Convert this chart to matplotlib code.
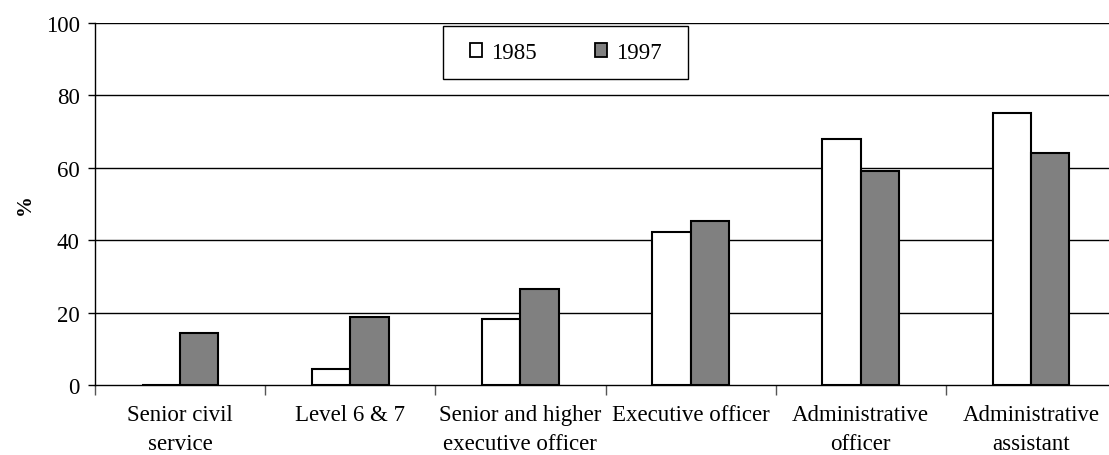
import matplotlib.pyplot as plt
import numpy as np
from matplotlib.patches import Rectangle

# categories and values
categories = ['Senior civil\nservice', 'Level 6 & 7', 'Senior and higher\nexecutive officer',
              'Executive officer', 'Administrative\nofficer', 'Administrative\nassistant']
pct_1985 = [0, 4.4, 18.2, 42.4, 68.0, 75.1]
pct_1997 = [14.4, 18.7, 26.5, 45.2, 59.1, 64.1]
y_ticks = [0, 20, 40, 60, 80, 100]

plt.rcParams['font.family'] = ['Liberation Serif', 'DejaVu Serif']

fig = plt.figure(figsize=(11.09, 4.56), dpi=100)
ax = fig.add_axes([95 / 1109, 1 - 386 / 456, 1021 / 1109, 362 / 456])

x = np.arange(len(categories))
w = 0.225

#gridlines first so bars sit on top
for v in y_ticks[1:]:
    ax.axhline(v, color='black', lw=1.0, zorder=0)

ax.bar(x - w / 2, pct_1985, w, color='white', edgecolor='black', lw=1.5, label='1985', zorder=2)
ax.bar(x + w / 2, pct_1997, w, color='#808080', edgecolor='black', lw=1.5, label='1997', zorder=2)

ax.set_xlim(-0.5, len(categories) - 0.5)
ax.set_ylim(0, 100)
ax.set_yticks(y_ticks)
ax.tick_params(axis='y', direction='out', length=5, width=1, labelsize=16.5, pad=6)

ax.set_xticks(x)
ax.set_xticklabels(categories, fontsize=16.5, linespacing=1.45)
ax.tick_params(axis='x', which='major', length=0, pad=14)
ax.set_xticks(np.arange(-0.5, len(categories) + 0.5, 1), minor=True)
ax.tick_params(axis='x', which='minor', direction='out', length=7, width=1, color='#555555')

for s in ['top', 'right']:
    ax.spines[s].set_visible(False)
ax.spines['left'].set_linewidth(1.0)
ax.spines['bottom'].set_linewidth(1.0)

ax.set_ylabel('%', fontsize=15, fontweight='bold', labelpad=8)

# legend box drawn by hand so the padding matches
ax.add_patch(Rectangle((0.3408, 0.8453), 0.24, 0.1464, transform=ax.transAxes,
                       facecolor='white', edgecolor='black', lw=1.0, zorder=5))
leg = ax.legend(loc='center', bbox_to_anchor=(0.4613, 0.9185), ncol=2, fontsize=16.5,
                frameon=False, handlelength=0.52, handleheight=0.52, handletextpad=0.4,
                columnspacing=2.55, borderpad=0, borderaxespad=0)
leg.set_zorder(6)
for p in leg.get_patches():
    p.set_linewidth(1.3)

fig.savefig('out.png', dpi=100)
